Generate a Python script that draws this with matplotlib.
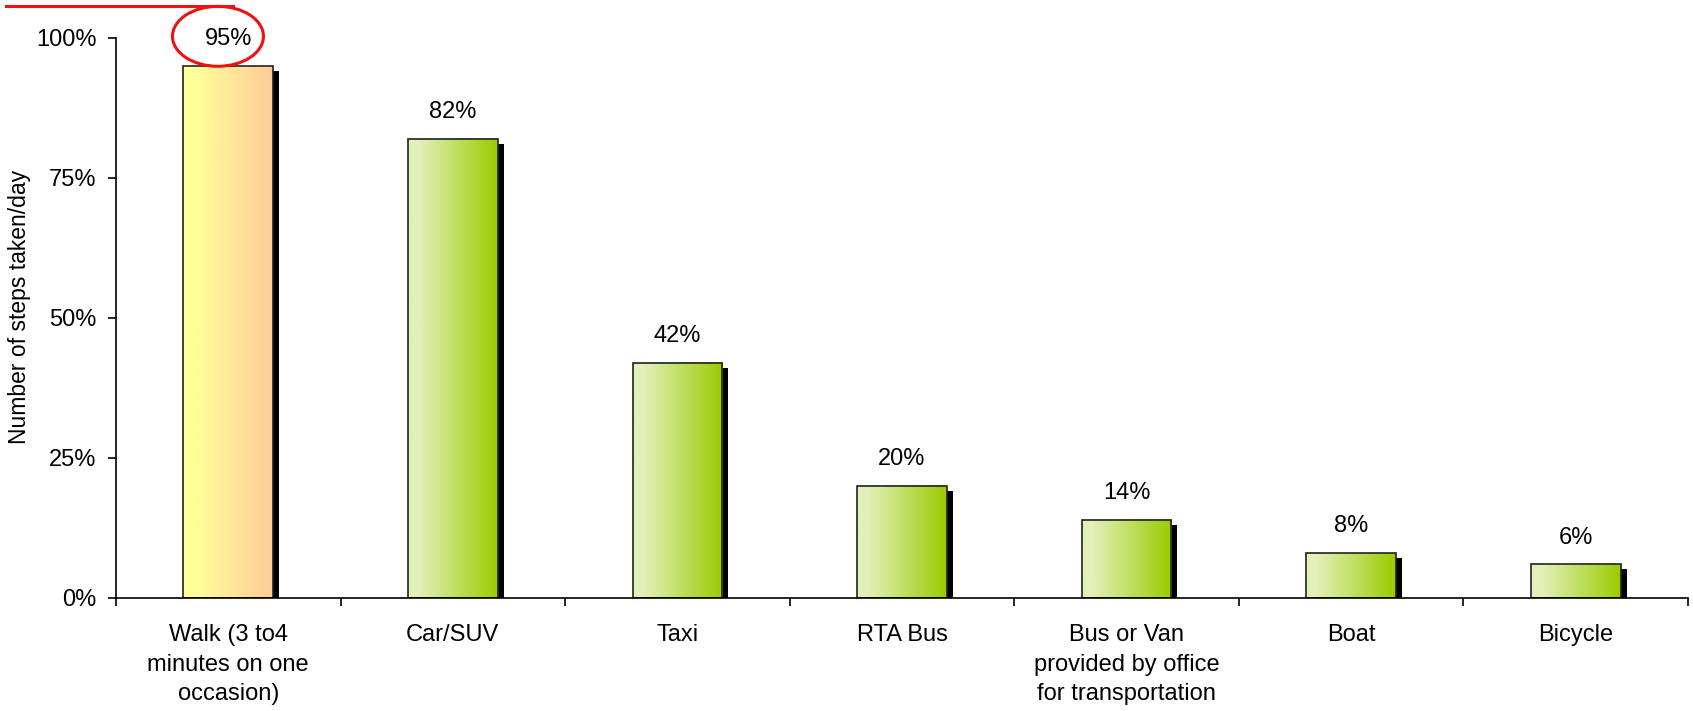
import numpy as np
import matplotlib
matplotlib.use("Agg")
import matplotlib.pyplot as plt
from matplotlib.patches import Ellipse
from matplotlib.lines import Line2D
from matplotlib.transforms import offset_copy
from matplotlib.colors import to_rgb
from matplotlib.ticker import FixedLocator, PercentFormatter

plt.rcParams['font.family'] = ['Liberation Sans', 'DejaVu Sans']

categories = [
    "Walk (3 to4\nminutes on one\noccasion)",
    "Car/SUV",
    "Taxi",
    "RTA Bus",
    "Bus or Van\nprovided by office\nfor transportation",
    "Boat",
    "Bicycle",
]
values = [95, 82, 42, 20, 14, 8, 6]
y_ticks = [0, 25, 50, 75, 100]
y_label = "Number of steps taken/day"

highlight_grad = ("#FFFF99", "#FFCC99")
normal_grad = ("#E3F0B8", "#99CC00")

W, H, DPI = 1693, 711, 100
fig = plt.figure(figsize=(W / DPI, H / DPI), dpi=DPI)
ax = fig.add_axes([116 / W, 1 - 598 / H, (1688 - 116) / W, (598 - 38) / H])

x = np.arange(len(categories))
bar_w = 0.4

# drop shadows, shifted right and down in device pixels
shadow_tr = offset_copy(ax.transData, fig=fig, x=6, y=-5, units='dots')
ax.bar(x, values, width=bar_w, color='black', linewidth=0,
       transform=shadow_tr, zorder=2)

# horizontal gradient fills
for i, v in enumerate(values):
    c0, c1 = highlight_grad if i == 0 else normal_grad
    c0, c1 = np.array(to_rgb(c0)), np.array(to_rgb(c1))
    t = np.clip((np.linspace(0, 1, 256) - 0.12) / 0.88, 0, 1)
    grad = (c0[None, :] * (1 - t[:, None]) + c1[None, :] * t[:, None])[None, :, :]
    ax.imshow(grad, extent=[i - bar_w / 2, i + bar_w / 2, 0, v],
              aspect='auto', interpolation='bilinear', zorder=3)

# outlines
ax.bar(x, values, width=bar_w, facecolor='none', edgecolor='#222222',
       linewidth=1.2, zorder=4)

for i, v in enumerate(values):
    ax.annotate(f"{v}%", (i, v), xytext=(0, 15), textcoords='offset points',
                ha='center', va='baseline', fontsize=17, zorder=6)

ax.set_xlim(-0.5, len(categories) - 0.5)
ax.set_ylim(0, 100)

for s in ('top', 'right'):
    ax.spines[s].set_visible(False)
for s in ('left', 'bottom'):
    ax.spines[s].set_linewidth(1.2)
    ax.spines[s].set_zorder(5)

ax.yaxis.set_major_locator(FixedLocator(y_ticks))
ax.yaxis.set_major_formatter(PercentFormatter(decimals=0))
ax.tick_params(axis='y', direction='out', length=6, width=1.2, pad=8,
               labelsize=17)

ax.set_xticks(x)
ax.set_xticklabels(categories, fontsize=17, linespacing=1.42)
ax.set_xticks(np.arange(len(categories) + 1) - 0.5, minor=True)
ax.tick_params(axis='x', which='major', length=0, pad=19)
ax.tick_params(axis='x', which='minor', direction='out', length=6, width=1.2)

ax.set_ylabel(y_label, fontsize=16.5)
ax.yaxis.set_label_coords(-0.054, 0.52)

# red emphasis: rule across the top and ring around the top value
ring = Ellipse((-0.046, 100.3), width=0.405, height=10.7, fill=False,
               edgecolor='#EE1111', linewidth=2.2, clip_on=False, zorder=7)
ax.add_patch(ring)
fig.add_artist(Line2D([6 / W, 233 / W], [1 - 6 / H, 1 - 6 / H],
                      color='#EE1111', linewidth=2.2))

fig.savefig("out.png", dpi=DPI)
